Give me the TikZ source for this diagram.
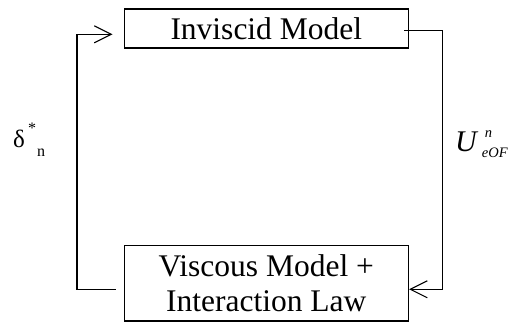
\documentclass[tikz,border=0pt]{standalone}
\usepackage{fontspec}
\setmainfont{Liberation Serif}
\usetikzlibrary{arrows.meta}
\tikzset{
  box/.style={draw, line width=1.6pt, inner sep=0pt, align=center,
              font=\fontsize{31.5}{35}\selectfont},
  conn/.style={line width=1.1pt, -{Straight Barb[length=17pt,width=17pt,line width=1.1pt]}},
  lbl/.style={anchor=base west, inner sep=0pt},
}
\begin{document}
\begin{tikzpicture}[x=1pt,y=-1pt]
\useasboundingbox (0,0) rectangle (512,323);
\node[box, minimum width=284pt, minimum height=39pt] (inv) at (266.3,28.8) {Inviscid Model};
\node[box, minimum width=284pt, minimum height=75.3pt] (visc) at (266.3,283.3) {Viscous Model +\\Interaction Law};
\coordinate (rc) at (442.7,30.7);
\coordinate (lc) at (77,289.3);
\draw[conn] ([xshift=-5pt,yshift=-1.9pt]inv.east) -- (rc) |- ([yshift=-6pt]visc.east);
\draw[conn] ([xshift=-7.6pt,yshift=-6pt]visc.west) -- (lc) |- ([xshift=-11pt,yshift=-5.5pt]inv.west);
\node[lbl, font=\fontsize{25}{25}\selectfont] (dl) at (13,148) {δ};
\node[lbl, font=\fontsize{16}{16}\selectfont, text height=10pt, text depth=0pt] (ds) at (28,134) {*};
\node[lbl, font=\fontsize{16}{16}\selectfont, text height=7pt, text depth=0pt] (dn) at (37,157) {n};
\node[lbl, font=\fontsize{30}{30}\selectfont\itshape] (U) at (455,152)
  {U\hspace{5pt}\rlap{\fontsize{14.5}{14.5}\selectfont\hspace{3pt}\raisebox{14.5pt}{n}}\raisebox{-6pt}{\fontsize{14.5}{14.5}\selectfont eOF}};
\end{tikzpicture}
\end{document}
